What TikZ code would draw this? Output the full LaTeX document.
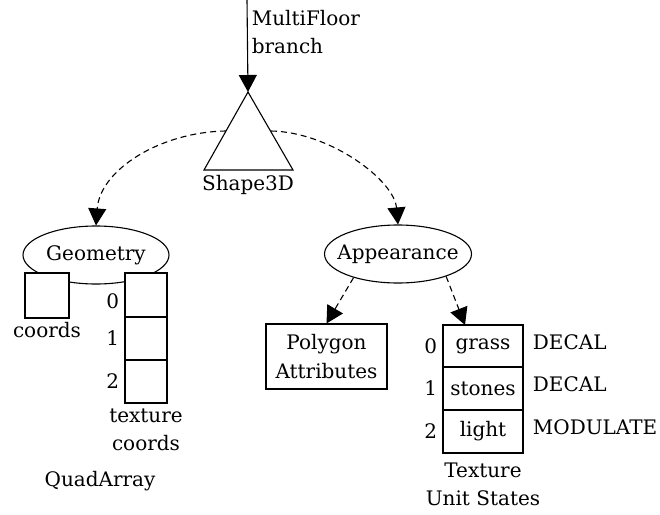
\documentclass[tikz,border=0pt]{standalone}
\usepackage{fontspec}
\setmainfont{DejaVu Serif}
\usetikzlibrary{positioning,shapes.geometric,arrows.meta}
\begin{document}
\begin{tikzpicture}[x=1pt,y=-1pt,line width=1.1pt,
        font=\fontsize{20}{28}\selectfont,
        solidarr/.style={-{Triangle[width=18pt,length=17pt]}},
        dasharr/.style={solidarr,dash pattern=on 6pt off 4pt},
        oval/.style={draw,ellipse,minimum width=146pt,minimum height=58pt,inner sep=0pt},
        cell/.style={draw,fill=white,inner sep=0pt,outer sep=0pt}]
        \useasboundingbox (0,0) rectangle (660,514);

        % Branch coming down into the shape
        \coordinate (top) at (247,0);
        \coordinate (apex) at (248,92);
        \coordinate (lside) at (226,131);
        \coordinate (rside) at (271,131);
        \draw (apex) -- (204,170) -- (293,170) -- cycle;
        \draw[solidarr] (top) -- (apex);
        \node[anchor=west,align=left] (mfloor) at (248,32) {MultiFloor\\branch};
        \node (shape) at (248,185) {Shape3D};

        % Geometry side (QuadArray)
        \node[oval] (geom) at (96,255) {};
        \node at (geom) {Geometry};
        \node[cell,minimum width=44pt,minimum height=45pt] (crd) at (47,295.5) {};
        \node[below=0pt of crd] (crdlbl) {coords};
        \node[cell,minimum width=42pt,minimum height=44pt] (tc0) at (146,295) {};
        \node[cell,minimum width=42pt,minimum height=43pt,below=0pt of tc0] (tc1) {};
        \node[cell,minimum width=42pt,minimum height=43pt,below=0pt of tc1] (tc2) {};
        \node[left=2pt of tc0,yshift=-6pt] {0};
        \node[left=2pt of tc1] {1};
        \node[left=2pt of tc2] {2};
        \node[below=2pt of tc2,align=center] (tclbl) {texture\\coords};
        \node (quad) at (100,481) {QuadArray};

        % Appearance side
        \node[oval,minimum width=147pt] (app) at (398,254) {};
        \node at (app) {Appearance};
        \node[draw,minimum width=121pt,minimum height=65pt,align=center,inner sep=0pt] (poly) at (326.5,356.5) {Polygon\\[1pt]Attributes};
        \node[cell,minimum width=80pt,minimum height=42pt] (tus0) at (483,346) {grass};
        \node[cell,minimum width=80pt,minimum height=43pt,below=0pt of tus0] (tus1) {stones};
        \node[cell,minimum width=80pt,minimum height=43pt,below=0pt of tus1] (tus2) {light};
        \foreach \i in {0,1,2} {
            \node[left=2pt of tus\i] {\i};
        }
        \node[right=6pt of tus0.east,anchor=west,yshift=4pt] {DECAL};
        \node[right=6pt of tus1.east,anchor=west,yshift=4pt] {DECAL};
        \node[right=6pt of tus2.east,anchor=west,yshift=4pt] {MODULATE};
        \node[below=6pt of tus2,align=center] (tuslbl) {Texture\\Unit States};

        % Dashed references
        \draw[dasharr] (lside) .. controls (160,132) and (100,170) .. (geom.north);
        \draw[dasharr] (rside) .. controls (330,132) and (394,180) .. (app.north);
        \draw[dasharr] (app.208) -- (poly.north);
        \draw[dasharr] (app.335) -- ([xshift=-18pt]tus0.north);
    \end{tikzpicture}
\end{document}
